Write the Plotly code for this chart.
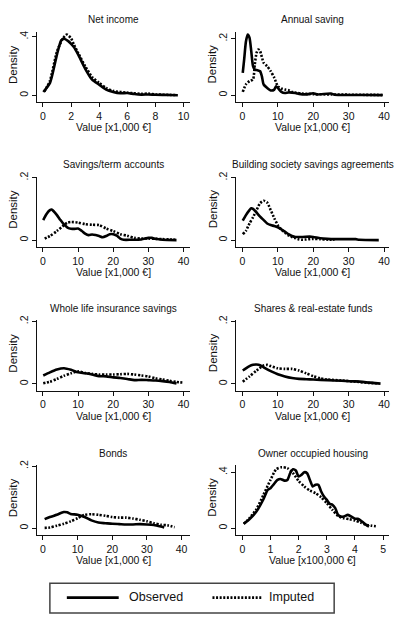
import plotly.graph_objects as go

W, H = 401, 617

# ---------------- data ----------------
titles = ["Net income", "Annual saving", "Savings/term accounts",
          "Building society savings agreements", "Whole life insurance savings",
          "Shares & real-estate funds", "Bonds", "Owner occupied housing"]
x_titles = ["Value [x1,000 €]"] * 7 + ["Value [x100,000 €]"]

# Net income
ni_x_obs = [0.03, 0.5, 1.0, 1.3, 1.5, 1.8, 2.0, 2.2, 2.5, 3.0, 3.5, 4.0, 4.5, 5.0, 5.5, 6.0, 6.5, 7.0, 7.5, 8.0, 9.0, 9.6]
ni_obs = [0.023, 0.085, 0.28, 0.375, 0.386, 0.37, 0.352, 0.33, 0.28, 0.183, 0.107, 0.073, 0.039, 0.023, 0.014, 0.016, 0.009, 0.005, 0.006, 0.004, 0.002, 0.001]
ni_x_imp = [0.1, 0.5, 1.0, 1.4, 1.7, 2.0, 2.2, 2.5, 3.0, 3.5, 4.0, 4.5, 5.0, 6.0, 7.0, 7.5, 8.0, 9.0, 9.5]
ni_imp = [0.025, 0.1, 0.30, 0.385, 0.415, 0.39, 0.347, 0.29, 0.2, 0.125, 0.085, 0.05, 0.03, 0.018, 0.01, 0.012, 0.006, 0.003, 0.002]

# Annual saving
as_x_obs = [0.1, 0.5, 1, 1.5, 2, 2.5, 3, 3.5, 4, 5, 5.5, 6, 7, 8, 9, 9.5, 10, 11, 12, 13, 15, 16, 18, 20, 21, 25, 26, 30, 35, 39.5]
as_obs = [0.079, 0.127, 0.19, 0.215, 0.204, 0.156, 0.103, 0.091, 0.089, 0.085, 0.067, 0.038, 0.026, 0.017, 0.02, 0.032, 0.026, 0.012, 0.008, 0.01, 0.008, 0.005, 0.003, 0.007, 0.003, 0.006, 0.002, 0.001, 0.001, 0.0005]
as_x_imp = [0.1, 1, 2, 3, 3.5, 4, 4.5, 5, 6, 7, 8, 9, 10, 11, 12, 13, 14, 15, 17, 20, 25, 30, 40]
as_imp = [0.012, 0.038, 0.05, 0.056, 0.109, 0.15, 0.162, 0.156, 0.115, 0.103, 0.085, 0.062, 0.032, 0.024, 0.02, 0.018, 0.012, 0.009, 0.006, 0.004, 0.003, 0.002, 0.001]

# Savings/term accounts
st_x_obs = [0.1, 1, 2, 2.5, 3, 4, 5, 6, 7, 8, 9, 10, 11, 12, 13, 14, 15, 16, 17, 18, 19, 20, 21, 22, 23, 25, 28, 30, 31, 32, 34, 38]
st_obs = [0.064, 0.083, 0.096, 0.098, 0.093, 0.08, 0.064, 0.05, 0.04, 0.036, 0.036, 0.037, 0.03, 0.021, 0.016, 0.018, 0.016, 0.013, 0.009, 0.013, 0.019, 0.019, 0.014, 0.005, 0.001, 0.001, 0.002, 0.007, 0.007, 0.004, 0.001, 0.0]
st_x_imp = [0.5, 2, 4, 6, 7, 8, 10, 12, 14, 16, 18, 20, 22, 24, 26, 28, 30, 32, 34, 36, 38]
st_imp = [0.005, 0.013, 0.029, 0.048, 0.056, 0.058, 0.056, 0.051, 0.049, 0.048, 0.037, 0.029, 0.019, 0.014, 0.007, 0.005, 0.005, 0.004, 0.003, 0.002, 0.001]

# Building society savings agreements
bs_x_obs = [0.1, 1, 2, 2.5, 3, 4, 5, 6, 7, 8, 9, 10, 11, 12, 13, 14, 15, 17, 19, 20, 22, 24, 26, 28, 30, 32, 33, 38.5]
bs_obs = [0.062, 0.08, 0.096, 0.102, 0.1, 0.088, 0.075, 0.064, 0.053, 0.048, 0.045, 0.041, 0.034, 0.027, 0.019, 0.013, 0.01, 0.01, 0.011, 0.01, 0.006, 0.004, 0.003, 0.003, 0.003, 0.003, 0.001, 0.0]
bs_x_imp = [0.1, 1, 2, 3, 4, 5, 6, 7, 8, 9, 10, 11, 12, 13, 14, 15, 16, 17, 18, 20, 22, 24, 26]
bs_imp = [0.019, 0.03, 0.053, 0.073, 0.096, 0.118, 0.126, 0.12, 0.096, 0.07, 0.048, 0.034, 0.024, 0.015, 0.01, 0.006, 0.002, 0.001, 0.002, 0.004, 0.003, 0.001, 0.001]

# Whole life insurance savings
wl_x_obs = [0.1, 2, 4, 6, 8, 10, 12, 14, 16, 18, 20, 22, 24, 26, 28, 30, 32, 34, 36, 38]
wl_obs = [0.027, 0.037, 0.046, 0.05, 0.045, 0.037, 0.034, 0.03, 0.025, 0.024, 0.021, 0.019, 0.016, 0.012, 0.013, 0.012, 0.011, 0.009, 0.006, 0.001]
wl_x_imp = [0.1, 2, 4, 6, 8, 10, 12, 14, 16, 18, 20, 22, 24, 26, 28, 30, 32, 34, 36, 38, 40]
wl_imp = [0.002, 0.007, 0.016, 0.026, 0.034, 0.04, 0.035, 0.032, 0.03, 0.03, 0.03, 0.031, 0.032, 0.03, 0.027, 0.024, 0.018, 0.014, 0.01, 0.006, 0.004]

# Shares & real-estate funds
sh_x_obs = [0.1, 1, 2, 3, 4, 5, 6, 8, 10, 12, 14, 16, 18, 20, 24, 28, 32, 36, 39]
sh_obs = [0.043, 0.05, 0.057, 0.061, 0.062, 0.06, 0.053, 0.041, 0.031, 0.024, 0.019, 0.016, 0.015, 0.014, 0.012, 0.01, 0.008, 0.004, 0.001]
sh_x_imp = [0.1, 2, 4, 6, 7, 8, 10, 12, 14, 16, 18, 20, 22, 24, 28, 32, 36, 38]
sh_imp = [0.007, 0.024, 0.043, 0.059, 0.061, 0.057, 0.05, 0.048, 0.048, 0.043, 0.034, 0.025, 0.018, 0.014, 0.011, 0.007, 0.003, 0.002]

# Bonds
bo_x_obs = [0.5, 2, 4, 6, 7, 8, 10, 12, 14, 16, 18, 20, 22, 24, 26, 28, 30, 32, 34, 35]
bo_obs = [0.029, 0.036, 0.043, 0.052, 0.051, 0.046, 0.043, 0.036, 0.025, 0.018, 0.016, 0.014, 0.013, 0.012, 0.012, 0.013, 0.012, 0.01, 0.005, 0.002]
bo_x_imp = [0.5, 2, 4, 6, 8, 10, 12, 14, 16, 18, 20, 22, 24, 26, 28, 30, 32, 34, 36, 38]
bo_imp = [0.001, 0.002, 0.008, 0.014, 0.022, 0.032, 0.043, 0.045, 0.043, 0.04, 0.036, 0.034, 0.034, 0.031, 0.027, 0.022, 0.016, 0.011, 0.009, 0.003]

# Owner occupied housing
oh_x_obs = [0.05, 0.25, 0.5, 0.75, 0.9, 1.0, 1.1, 1.25, 1.35, 1.5, 1.6, 1.7, 1.8, 1.9, 2.0, 2.1, 2.2, 2.3, 2.4, 2.5, 2.6, 2.7, 2.8, 2.9, 3.0, 3.1, 3.2, 3.3, 3.4, 3.5, 3.6, 3.75, 3.9, 4.0, 4.1, 4.25, 4.4, 4.5]
oh_obs = [0.031, 0.064, 0.119, 0.207, 0.274, 0.286, 0.31, 0.345, 0.352, 0.34, 0.345, 0.393, 0.421, 0.412, 0.369, 0.381, 0.4, 0.393, 0.345, 0.298, 0.31, 0.31, 0.262, 0.226, 0.202, 0.174, 0.167, 0.143, 0.095, 0.083, 0.083, 0.095, 0.079, 0.067, 0.067, 0.048, 0.024, 0.012]
oh_x_imp = [0.05, 0.25, 0.5, 0.75, 1.0, 1.2, 1.4, 1.6, 1.8, 2.0, 2.2, 2.4, 2.6, 2.8, 3.0, 3.2, 3.4, 3.6, 3.8, 4.0, 4.2, 4.4, 4.6, 4.8]
oh_imp = [0.031, 0.071, 0.136, 0.238, 0.345, 0.421, 0.436, 0.429, 0.393, 0.338, 0.298, 0.269, 0.25, 0.221, 0.179, 0.131, 0.088, 0.071, 0.064, 0.055, 0.04, 0.024, 0.017, 0.012]

series = [
    (ni_x_obs, ni_obs, ni_x_imp, ni_imp),
    (as_x_obs, as_obs, as_x_imp, as_imp),
    (st_x_obs, st_obs, st_x_imp, st_imp),
    (bs_x_obs, bs_obs, bs_x_imp, bs_imp),
    (wl_x_obs, wl_obs, wl_x_imp, wl_imp),
    (sh_x_obs, sh_obs, sh_x_imp, sh_imp),
    (bo_x_obs, bo_obs, bo_x_imp, bo_imp),
    (oh_x_obs, oh_obs, oh_x_imp, oh_imp),
]

x_ticks = [[0, 2, 4, 6, 8, 10]] + [[0, 10, 20, 30, 40]] * 6 + [[0, 1, 2, 3, 4, 5]]
y_ticks = [[0, 0.4], [0, 0.2], [0, 0.2], [0, 0.2], [0, 0.2], [0, 0.2], [0, 0.2], [0, 0.4]]
y_tick_text = [["0", ".4"], ["0", ".2"], ["0", ".2"], ["0", ".2"], ["0", ".2"], ["0", ".2"], ["0", ".2"], ["0", ".4"]]

# ---------------- layout geometry (pixels) ----------------
col_px = [(37, 190), (237, 390)]
row_px = [(27, 98), (173, 244), (318, 389), (464, 534.5)]
x_ranges = [[-0.43, 10.43], [-1.69, 41.4], [-1.70, 41.7], [-1.69, 41.4],
            [-1.70, 41.7], [-1.69, 41.4], [-1.73, 42.3], [-0.21, 5.21]]
y_ranges = [[-0.047, 0.434], [-0.0246, 0.2246], [-0.0222, 0.2032], [-0.0222, 0.2032],
            [-0.0222, 0.2032], [-0.0222, 0.2032], [-0.0226, 0.203], [-0.05, 0.45]]

FONT = "Liberation Sans, Arial, sans-serif"
INK = "#111111"
DOTS = "2px,1.6px"

fig = go.Figure()
layout = dict(width=W, height=H, margin=dict(l=0, r=0, t=0, b=0),
              paper_bgcolor="white", plot_bgcolor="white", showlegend=False,
              font=dict(family=FONT, color=INK))
annotations = []

for i in range(8):
    r, c = divmod(i, 2)
    x0, x1 = col_px[c]
    y0, y1 = row_px[r]
    xa = "x" if i == 0 else f"x{i+1}"
    ya = "y" if i == 0 else f"y{i+1}"
    xo, yo, xi, yi = series[i]
    fig.add_trace(go.Scatter(x=xo, y=yo, mode="lines", xaxis=xa, yaxis=ya,
                             line=dict(color="black", width=2.6, shape="spline", smoothing=0.6),
                             name="Observed"))
    fig.add_trace(go.Scatter(x=xi, y=yi, mode="lines", xaxis=xa, yaxis=ya,
                             line=dict(color="black", width=2.6, dash=DOTS, shape="spline", smoothing=0.6),
                             name="Imputed"))
    key = "" if i == 0 else str(i + 1)
    layout["xaxis" + key] = dict(
        domain=[x0 / W, x1 / W], range=x_ranges[i], anchor=ya,
        showline=True, linecolor=INK, linewidth=1, showgrid=False, zeroline=False,
        ticks="outside", ticklen=4, tickcolor=INK, tickvals=x_ticks[i],
        ticktext=[str(v) for v in x_ticks[i]], tickfont=dict(size=10.5, family=FONT, color=INK))
    layout["yaxis" + key] = dict(
        domain=[1 - y1 / H, 1 - y0 / H], range=y_ranges[i], anchor=xa,
        showline=True, linecolor=INK, linewidth=1, showgrid=False, zeroline=False,
        ticks="outside", ticklen=4, tickcolor=INK, tickvals=y_ticks[i],
        ticktext=y_tick_text[i], tickangle=-90, tickfont=dict(size=10.5, family=FONT, color=INK))
    cx = (x0 + x1) / 2
    # panel title
    annotations.append(dict(text=titles[i], x=cx / W, y=1 - (y0 - 12) / H, xref="paper", yref="paper",
                            xanchor="center", yanchor="middle", showarrow=False,
                            font=dict(size=10, family=FONT, color=INK)))
    # x axis title
    annotations.append(dict(text=x_titles[i], x=cx / W, y=1 - (y1 + 25.5) / H, xref="paper", yref="paper",
                            xanchor="center", yanchor="middle", showarrow=False,
                            font=dict(size=10.5, family=FONT, color=INK)))
    # y axis title
    annotations.append(dict(text="Density", x=(x0 - 24) / W, y=1 - ((y0 + y1) / 2 - 3) / H,
                            xref="paper", yref="paper", xanchor="center", yanchor="middle",
                            textangle=-90, showarrow=False,
                            font=dict(size=11.5, family=FONT, color=INK)))

# ---------------- legend ----------------
shapes = [
    dict(type="rect", xref="paper", yref="paper", x0=50 / W, x1=335 / W,
         y0=1 - 613 / H, y1=1 - 583 / H, line=dict(color="#444444", width=1.5), fillcolor="white"),
    dict(type="line", xref="paper", yref="paper", x0=67 / W, x1=119 / W,
         y0=1 - 597.5 / H, y1=1 - 597.5 / H, line=dict(color="black", width=2.6)),
    dict(type="line", xref="paper", yref="paper", x0=213 / W, x1=263 / W,
         y0=1 - 597.5 / H, y1=1 - 597.5 / H, line=dict(color="black", width=2.6, dash=DOTS)),
]
annotations.append(dict(text="Observed", x=127 / W, y=1 - 597 / H, xref="paper", yref="paper",
                        xanchor="left", yanchor="middle", showarrow=False,
                        font=dict(size=12.5, family=FONT, color=INK)))
annotations.append(dict(text="Imputed", x=268 / W, y=1 - 597 / H, xref="paper", yref="paper",
                        xanchor="left", yanchor="middle", showarrow=False,
                        font=dict(size=12.5, family=FONT, color=INK)))

layout["annotations"] = annotations
layout["shapes"] = shapes
fig.update_layout(**layout)
fig.write_html("out.html")
